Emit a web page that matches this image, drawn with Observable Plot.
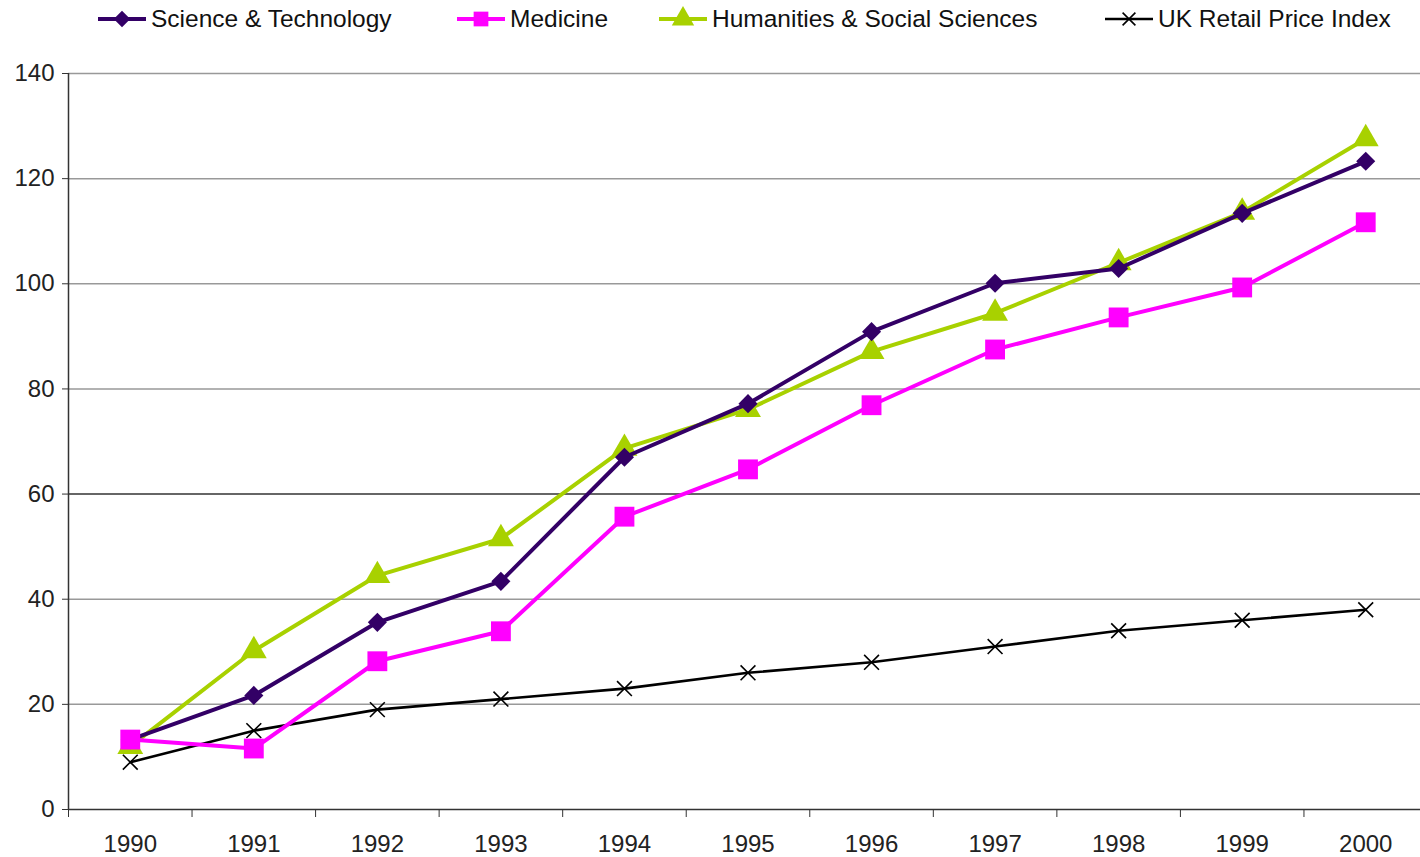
<!DOCTYPE html>
<html>
<head>
<meta charset="utf-8">
<script src="https://cdn.jsdelivr.net/npm/d3@7"></script>
<script src="https://cdn.jsdelivr.net/npm/@observablehq/plot@0.6"></script>
<style>
  html, body { margin: 0; padding: 0; background: #fff; overflow: hidden; width: 1420px; height: 857px; }
  body { font-family: "Liberation Sans", Arial, sans-serif; }
  #legend { position: relative; height: 40px; width: 1420px; }
  .item { position: absolute; top: 4px; height: 30px; display: flex; align-items: center; font-size: 24.5px; color: #111; white-space: nowrap; }
  .item svg { margin-right: 5px; }
  #chart svg { display: block; max-width: none !important; }
</style>
</head>
<body>
<div id="legend"></div>
<div id="chart"></div>
<script>
const years = [1990, 1991, 1992, 1993, 1994, 1995, 1996, 1997, 1998, 1999, 2000];
const seriesNames = ["Science & Technology", "Medicine", "Humanities & Social Sciences", "UK Retail Price Index"];
const scienceTech = [13.3, 21.7, 35.6, 43.4, 67.0, 77.2, 90.9, 100.1, 102.9, 113.4, 123.3];
const medicine    = [13.3, 11.6, 28.2, 33.9, 55.7, 64.7, 76.9, 87.5, 93.6, 99.3, 111.7];
const humanities  = [12.0, 30.2, 44.5, 51.5, 68.7, 76.1, 87.1, 94.4, 104.0, 113.6, 127.6];
const retailPrice = [9, 15, 19, 21, 23, 26, 28, 31, 34, 36, 38];
const yTicks = [0, 20, 40, 60, 80, 100, 120, 140];

const colors = ["#330066", "#ff00ff", "#a8d100", "#000000"];
const symbols = ["diamond2", "square", "triangle", "times"];
const radii = [8.6, 11.2, 9.6, 6.8];
const widths = [4, 4, 4, 2.6];
const allValues = [scienceTech, medicine, humanities, retailPrice];

const data = [];
seriesNames.forEach((name, i) => {
  years.forEach((yr, j) => data.push({series: name, idx: i, year: yr, value: allValues[i][j]}));
});

const bounds = years.map(y => y - 0.5).concat([years[years.length - 1] + 0.5]);

const marks = [
  Plot.gridY(yTicks.filter(v => v !== 0 && v !== 60), {stroke: "#999", strokeOpacity: 1, strokeWidth: 1.5}),
  Plot.ruleY([60], {stroke: "#333", strokeWidth: 1.5}),
  Plot.axisY(yTicks, {tickSize: 6, tickPadding: 8, fontSize: 24, stroke: "#333", fill: "#222", label: null}),
  Plot.axisX(bounds, {tickSize: 8, tickFormat: () => "", stroke: "#333", label: null}),
  Plot.axisX(years, {tickSize: 0, tickPadding: 25, fontSize: 24, fill: "#222", tickFormat: d => String(d), label: null}),
  Plot.ruleX([bounds[0]], {stroke: "#333", strokeWidth: 1.5}),
  Plot.ruleY([0], {stroke: "#333", strokeWidth: 1.5})
];
const order = [3, 2, 0, 1];
order.forEach(i => {
  const d = data.filter(r => r.idx === i);
  marks.push(Plot.line(d, {x: "year", y: "value", stroke: colors[i], strokeWidth: widths[i]}));
  if (symbols[i] === "times") {
    marks.push(Plot.dot(d, {x: "year", y: "value", symbol: symbols[i], r: radii[i], stroke: colors[i], strokeWidth: 1.6}));
  } else {
    marks.push(Plot.dot(d, {x: "year", y: "value", symbol: symbols[i], r: radii[i], fill: colors[i], stroke: "none"}));
  }
});

const plot = Plot.plot({
  width: 1427,
  height: 817,
  marginLeft: 68,
  marginRight: 0,
  marginTop: 33,
  marginBottom: 48,
  x: {type: "linear", domain: [bounds[0], bounds[bounds.length - 1]]},
  y: {domain: [0, 140]},
  style: {fontFamily: "'Liberation Sans', Arial, sans-serif", background: "#fff", overflow: "visible", maxWidth: "none"},
  marks
});
document.getElementById("chart").appendChild(plot);

// Legend
const legendX = [98, 457, 659, 1105];
const legend = d3.select("#legend");
const symMap = {diamond2: d3.symbolDiamond2, square: d3.symbolSquare, triangle: d3.symbolTriangle, times: d3.symbolTimes};
seriesNames.forEach((name, i) => {
  const item = legend.append("div").attr("class", "item").style("left", legendX[i] + "px");
  const s = item.append("svg").attr("width", 48).attr("height", 30);
  s.append("line").attr("x1", 0).attr("x2", 48).attr("y1", 15).attr("y2", 15)
    .attr("stroke", colors[i]).attr("stroke-width", widths[i]);
  const size = Math.PI * radii[i] * radii[i] * (symbols[i] === "square" ? 0.55 : 0.75);
  const path = d3.symbol(symMap[symbols[i]], size)();
  const p = s.append("path").attr("d", path).attr("transform", "translate(24,15)");
  if (symbols[i] === "times") p.attr("fill", "none").attr("stroke", colors[i]).attr("stroke-width", 1.6);
  else p.attr("fill", colors[i]);
  item.append("span").text(name);
});
</script>
</body>
</html>
